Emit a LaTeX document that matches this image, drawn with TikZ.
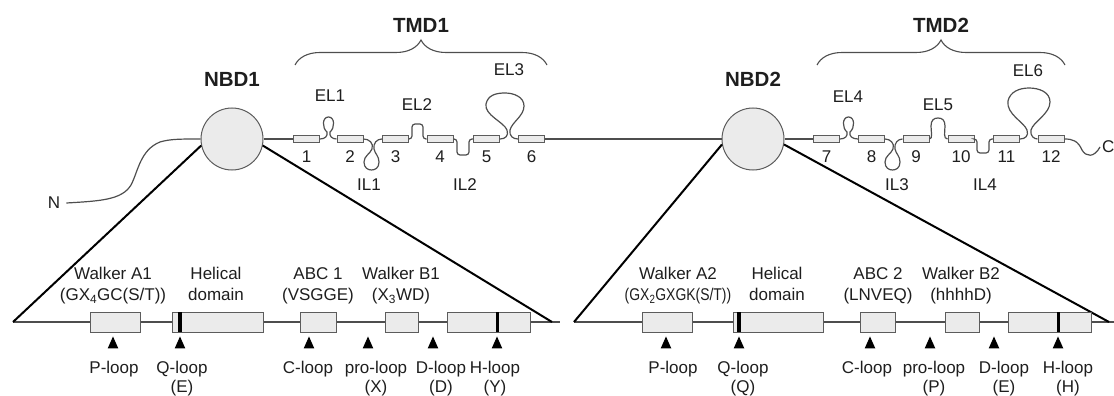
\documentclass[tikz,border=0pt]{standalone}
\usepackage{fontspec}
\setmainfont{Liberation Sans}
\usepackage{graphicx}
\usetikzlibrary{positioning, shapes.geometric, decorations.pathreplacing}
\definecolor{lgray}{HTML}{4E4E4E}
\definecolor{bfill}{HTML}{EBEBEB}
\definecolor{bline}{HTML}{5C5C5C}
\definecolor{tcol}{HTML}{1E1E1E}
\tikzset{
  tmbox/.style={draw=bline, fill=bfill, line width=1pt, minimum width=26pt,
                minimum height=7pt, inner sep=0pt},
  dombox/.style={draw=bline, fill=bfill, line width=1pt, minimum height=20pt, inner sep=0pt},
  nbd/.style={circle, draw=bline, fill=bfill, line width=1pt, minimum size=62pt, inner sep=0pt},
  chain/.style={lgray, line width=1.2pt},
  expand/.style={black, line width=2pt},
  lbl/.style={text=tcol, font=\fontsize{17}{19}\selectfont, inner sep=0pt, align=center},
  hdr/.style={lbl, font=\fontsize{17}{21}\selectfont, anchor=north},
  loopname/.style={lbl, anchor=north},
  title/.style={text=tcol, font=\bfseries\fontsize{20.5}{24}\selectfont, inner sep=0pt},
  loopmark/.style={isosceles triangle, isosceles triangle apex angle=48, shape border rotate=90,
                   fill=black, inner sep=0pt, minimum height=12pt},
  motif/.style={fill=black, minimum width=3.5pt, minimum height=20pt, inner sep=0pt},
  tmbrace/.style={decorate, decoration={brace, amplitude=25pt}, lgray, line width=1.1pt},
}
\begin{document}
\begin{tikzpicture}[x=1pt, y=-1pt]
  \useasboundingbox (0,0) rectangle (1114,396);

  % --- top: domains and membrane helices
  \node[nbd] (nbd1) at (232,139) {};
  \node[nbd] (nbd2) at (753,139) {};
  \node[title] (nbd1lbl) at (232,79) {NBD1};
  \node[title] (nbd2lbl) at (753,79) {NBD2};
  \node[title] (tmd1lbl) at (421,25) {TMD1};
  \node[title] (tmd2lbl) at (941,25) {TMD2};
  \coordinate (tmd1a) at (295,65);  \coordinate (tmd1b) at (547,65);
  \coordinate (tmd2a) at (817,65);  \coordinate (tmd2b) at (1065,65);
  \draw[tmbrace] (tmd1a) -- (tmd1b);
  \draw[tmbrace] (tmd2a) -- (tmd2b);

  \foreach \i/\x in {1/306.5, 2/350, 3/395.5, 4/440, 5/486.5, 6/531.5,
                     7/826.5, 8/871.5, 9/916, 10/961, 11/1006.5, 12/1051} {
    \node[tmbox] (tm\i) at (\x,139) {};
    \node[lbl] (tmn\i) at (\x,157) {\i};
  }

  \node[lbl] (nterm) at (54,203) {N};
  \node[lbl, anchor=west] (cterm) at (1102,147) {C};

  \draw[chain] ([xshift=6pt]nterm.east) .. controls (100,201) and (122,200) .. (131,185)
    .. controls (138,172) and (140,150) .. (160,142) .. controls (170,139) and (180,139) .. (nbd1.west);
  \draw[chain] (nbd1.east) -- (tm1.west);
  \draw[chain] (tm6.east) -- (nbd2.west);
  \draw[chain] (nbd2.east) -- (tm7.west);
  \draw[chain] (tm12.east) .. controls (1073,139) and (1078,141) .. (1082,150)
    .. controls (1086,157) and (1094,158) .. ([xshift=-2pt]cterm.west);

  % loops of TMD1
  \draw[chain] (tm1.east) .. controls (325,139) and (328,136) .. (327,132)
    .. controls (322,128) and (322,117) .. (328.5,117) .. controls (335,117) and (335,128) .. (330,132)
    .. controls (329,136) and (332,139) .. (tm2.west);
  \draw[chain] (tm2.east) .. controls (369,139) and (374,143) .. (372,149)
    .. controls (370,154) and (364,156) .. (364,162) .. controls (364,168) and (368,170) .. (371.5,170)
    .. controls (375,170) and (379,168) .. (379,162) .. controls (379,156) and (375,154) .. (374,149)
    .. controls (373,143) and (377,139) .. (tm3.west);
  \draw[chain, rounded corners=3pt] (tm3.east) -- (412,139) -- (412,124) -- (423,124) -- (423,139) -- (tm4.west);
  \draw[chain, rounded corners=3pt] (tm4.east) -- (457,139) -- (457,155) -- (469,155) -- (469,139) -- (tm5.west);
  \draw[chain] (tm5.east) .. controls (505,139) and (509,136) .. (507,130)
    .. controls (504,122) and (484,115) .. (486,104) .. controls (488,95) and (496,93) .. (505,93)
    .. controls (514,93) and (524,97) .. (524,106) .. controls (524,116) and (512,122) .. (510,130)
    .. controls (509,136) and (513,139) .. (tm6.west);
  \node[lbl] (el1) at (330,96) {EL1};
  \node[lbl] (el2) at (417,105) {EL2};
  \node[lbl] (el3) at (509,70) {EL3};
  \node[lbl] (il1) at (369,185) {IL1};
  \node[lbl] (il2) at (465,185) {IL2};

  % loops of TMD2
  \draw[chain] (tm7.east) .. controls (845,139) and (848,136) .. (847,132)
    .. controls (842,128) and (842,117) .. (848.5,117) .. controls (855,117) and (855,128) .. (850,132)
    .. controls (849,136) and (852,139) .. (tm8.west);
  \draw[chain] (tm8.east) .. controls (890,139) and (895,143) .. (893,149)
    .. controls (891,154) and (885,156) .. (885,162) .. controls (885,168) and (889,170) .. (892.5,170)
    .. controls (896,170) and (900,168) .. (900,162) .. controls (900,156) and (896,154) .. (895,149)
    .. controls (894,143) and (898,139) .. (tm9.west);
  \draw[chain] (tm9.east) .. controls (933,139) and (931,131) .. (931,126)
    .. controls (931,120) and (934,118) .. (938,118) .. controls (942,118) and (945,120) .. (945,126)
    .. controls (945,131) and (943,139) .. (tm10.west);
  \draw[chain, rounded corners=3pt] (tm10.east) -- (977,139) -- (977,153) -- (989,153) -- (989,139) -- (tm11.west);
  \draw[chain] (tm11.east) .. controls (1025,139) and (1029,136) .. (1027,130)
    .. controls (1024,122) and (1006,114) .. (1008,101) .. controls (1010,92) and (1019,88) .. (1029,88)
    .. controls (1039,88) and (1050,92) .. (1050,102) .. controls (1050,114) and (1033,122) .. (1031,130)
    .. controls (1030,136) and (1034,139) .. (tm12.west);
  \node[lbl] (el4) at (848,97) {EL4};
  \node[lbl] (el5) at (938,105) {EL5};
  \node[lbl] (el6) at (1028,71) {EL6};
  \node[lbl] (il3) at (897,185) {IL3};
  \node[lbl] (il4) at (985,185) {IL4};

  % --- bottom left: NBD1 in detail
  \coordinate (bl1) at (13,322);  \coordinate (br1) at (552,322);  \coordinate (be1) at (560,322);
  \draw[chain] (bl1) -- (be1);
  \draw[expand] (nbd1.192) -- (bl1);
  \draw[expand] (nbd1.-12) -- (br1);
  \node[dombox, minimum width=50pt] (wa1) at (115,322) {};
  \node[dombox, minimum width=91pt] (hel1) at (217.5,322) {};
  \node[motif] (qbar1) at (180,322) {};
  \node[dombox, minimum width=36pt] (abc1) at (318,322) {};
  \node[dombox, minimum width=33pt] (wb1) at (401.5,322) {};
  \node[dombox, minimum width=83pt] (sig1) at (488.5,322) {};
  \node[motif, minimum width=3pt] (hbar1) at (497,322) {};

  \node[hdr] (wa1lbl) at (113,267) {Walker A1\\(GX\textsubscript{4}GC(S/T))};
  \node[hdr] (hel1lbl) at (216,267) {Helical\\domain};
  \node[hdr] (abc1lbl) at (318,267) {ABC 1\\(VSGGE)};
  \node[hdr] (wb1lbl) at (401,267) {Walker B1\\(X\textsubscript{3}WD)};

  \node[loopmark] (pm1) at (113,345) {};
  \node[loopmark] (qm1) at (180,345) {};
  \node[loopmark] (cm1) at (309,345) {};
  \node[loopmark] (prom1) at (368,345) {};
  \node[loopmark] (dm1) at (433,345) {};
  \node[loopmark] (hm1) at (497,345) {};
  \node[loopname] (pl1) at (114,361) {P-loop};
  \node[loopname] (ql1) at (182,361) {Q-loop\\(E)};
  \node[loopname] (cl1) at (308,361) {C-loop};
  \node[loopname] (prol1) at (376,361) {pro-loop\\(X)};
  \node[loopname] (dl1) at (441,361) {D-loop\\(D)};
  \node[loopname] (hl1) at (495,361) {H-loop\\(Y)};

  % --- bottom right: NBD2 in detail
  \coordinate (bl2) at (574,322);  \coordinate (br2) at (1109,322);  \coordinate (be2) at (1114,322);
  \draw[chain] (bl2) -- (be2);
  \draw[expand] (nbd2.190) -- (bl2);
  \draw[expand] (nbd2.-10) -- (br2);
  \node[dombox, minimum width=50pt] (wa2) at (667,322) {};
  \node[dombox, minimum width=90pt] (hel2) at (778,322) {};
  \node[motif] (qbar2) at (739,322) {};
  \node[dombox, minimum width=35pt] (abc2) at (877.5,322) {};
  \node[dombox, minimum width=34pt] (wb2) at (962,322) {};
  \node[dombox, minimum width=83pt] (sig2) at (1049.5,322) {};
  \node[motif, minimum width=3pt] (hbar2) at (1058,322) {};

  \node[hdr] (wa2lbl) at (678,267) {Walker A2\\\scalebox{0.82}[1]{(GX\textsubscript{2}GXGK(S/T))}};
  \node[hdr] (hel2lbl) at (777,267) {Helical\\domain};
  \node[hdr] (abc2lbl) at (878,267) {ABC 2\\(LNVEQ)};
  \node[hdr] (wb2lbl) at (961,267) {Walker B2\\(hhhhD)};

  \node[loopmark] (pm2) at (666,345) {};
  \node[loopmark] (qm2) at (739,345) {};
  \node[loopmark] (cm2) at (870,345) {};
  \node[loopmark] (prom2) at (930,345) {};
  \node[loopmark] (dm2) at (994,345) {};
  \node[loopmark] (hm2) at (1058,345) {};
  \node[loopname] (pl2) at (673,361) {P-loop};
  \node[loopname] (ql2) at (743,361) {Q-loop\\(Q)};
  \node[loopname] (cl2) at (867,361) {C-loop};
  \node[loopname] (prol2) at (934,361) {pro-loop\\(P)};
  \node[loopname] (dl2) at (1004,361) {D-loop\\(E)};
  \node[loopname] (hl2) at (1068,361) {H-loop\\(H)};
\end{tikzpicture}
\end{document}
